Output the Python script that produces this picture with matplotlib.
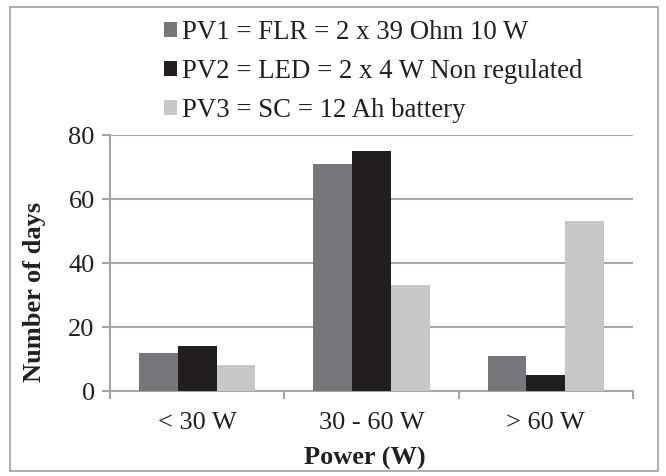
import matplotlib
matplotlib.use("Agg")
import matplotlib.pyplot as plt
import numpy as np
from matplotlib.patches import Rectangle

categories = ["< 30 W", "30 - 60 W", "> 60 W"]
series_names = ["PV1 = FLR = 2 x 39 Ohm 10 W",
                "PV2 = LED = 2 x 4 W Non regulated",
                "PV3 = SC = 12 Ah battery"]
pv1 = [12, 71, 11]
pv2 = [14, 75, 5]
pv3 = [8, 33, 53]
yticks = [0, 20, 40, 60, 80]

colors = ["#76777B", "#231F20", "#C6C7C9"]
grid_c = "#A6A6A6"
txt_c = "#231F20"

plt.rcParams['font.family'] = ['Liberation Serif', 'DejaVu Serif']

W, H = 666, 476
fig = plt.figure(figsize=(W/100, H/100), dpi=100)
ax = fig.add_axes([110/W, 1-391/H, (633-110)/W, (391-135)/H])

x = np.arange(len(categories))
w = 0.2222
for i, (vals, name, c) in enumerate(zip([pv1, pv2, pv3], series_names, colors)):
    ax.bar(x + (i-1)*w, vals, width=w, color=c, label=name, zorder=3)

ax.set_xlim(-0.5, 2.5)
ax.set_ylim(0, 80)
ax.set_yticks(yticks)
ax.set_yticklabels([str(v) for v in yticks])
ax.yaxis.grid(True, color=grid_c, linewidth=1.5, zorder=0)
ax.set_axisbelow(True)
for s in ["top", "right"]:
    ax.spines[s].set_visible(False)
for s in ["left", "bottom"]:
    ax.spines[s].set_color(grid_c)
    ax.spines[s].set_linewidth(1.5)
ax.set_xticks(x)
ax.set_xticklabels(categories)
ax.set_xticks([-0.5, 0.5, 1.5, 2.5], minor=True)
ax.tick_params(axis='x', which='major', length=0, pad=15, labelsize=19, colors=txt_c)
ax.tick_params(axis='x', which='minor', length=6, width=1.5, color=grid_c, direction='out')
ax.tick_params(axis='y', length=6, width=1.5, color=grid_c, labelsize=19, pad=5, labelcolor=txt_c)

ax.set_ylabel("Number of days", fontsize=19, fontweight='bold', color=txt_c)
ax.yaxis.set_label_coords(35/W, 1-292/H, transform=fig.transFigure)
ax.set_xlabel("Power (W)", fontsize=19, fontweight='bold', color=txt_c)
ax.xaxis.set_label_coords(365/W, 1-458/H, transform=fig.transFigure)
ax.xaxis.label.set_va('center')
ax.yaxis.label.set_va('center')

leg = fig.legend(loc='upper left', bbox_to_anchor=(164/W, 1-20/H), frameon=False,
                 fontsize=19.3, handlelength=0.49, handleheight=0.49, handletextpad=0.2,
                 labelspacing=0.52, borderpad=0, borderaxespad=0)
for t in leg.get_texts():
    t.set_color(txt_c)

fig.patches.append(Rectangle((10/W, 1-471/H), (658-10)/W, (471-7)/H,
                             transform=fig.transFigure, fill=False,
                             edgecolor='#A0A0A0', linewidth=1.2))

fig.savefig("out.png", dpi=100)
